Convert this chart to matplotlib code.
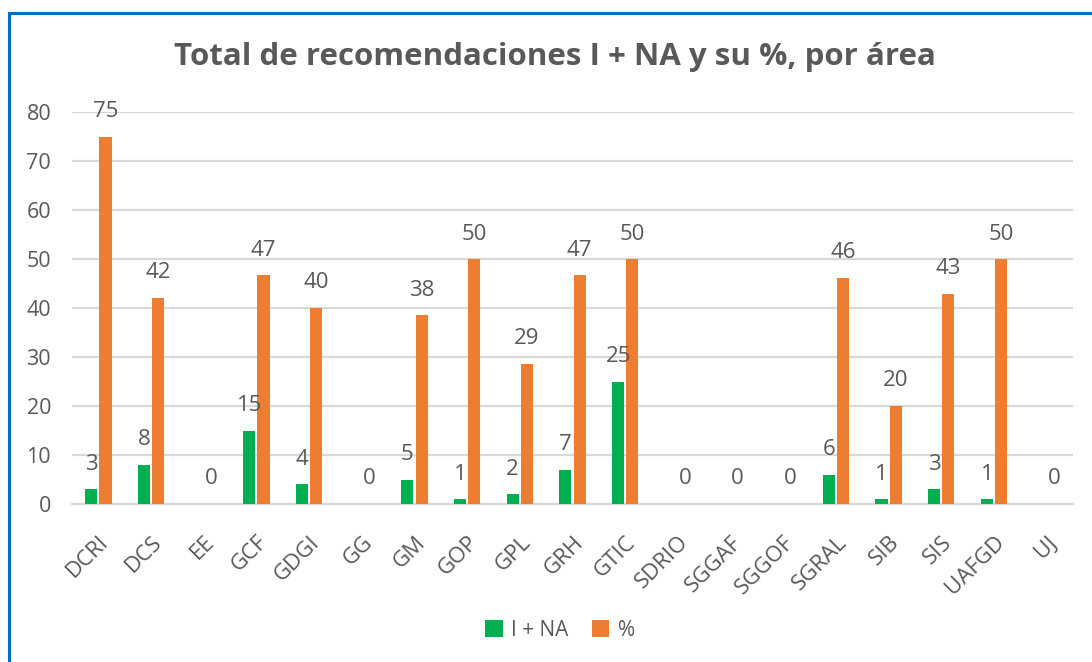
import matplotlib

matplotlib.use("Agg")
import matplotlib.pyplot as plt
import numpy as np
from matplotlib.lines import Line2D

areas = ["DCRI", "DCS", "EE", "GCF", "GDGI", "GG", "GM", "GOP", "GPL", "GRH",
         "GTIC", "SDRIO", "SGGAF", "SGGOF", "SGRAL", "SIB", "SIS", "UAFGD", "UJ"]
i_na = [3, 8, 0, 15, 4, 0, 5, 1, 2, 7, 25, 0, 0, 0, 6, 1, 3, 1, 0]
pct = [75, 42.1, 0, 46.7, 40, 0, 38.5, 50, 28.6, 46.7, 50, 0, 0, 0, 46.2, 20, 42.9, 50, 0]
y_ticks = [0, 10, 20, 30, 40, 50, 60, 70, 80]

GREEN = "#00b050"
ORANGE = "#ed7d31"
TEXT = "#595959"
GRID = "#d9d9d9"

plt.rcParams["font.family"] = ["Open Sans", "DejaVu Sans"]

fig = plt.figure(figsize=(10.92, 6.62), dpi=100)
ax = fig.add_axes([72 / 1092, 1 - 504 / 662, (1073 - 72) / 1092, (504 - 112) / 662])

x = np.arange(len(areas))
w = 0.23
off = 0.135
b1 = ax.bar(x - off, i_na, w, color=GREEN, label="I + NA", zorder=3)
b2 = ax.bar(x + off, pct, w, color=ORANGE, label="%", zorder=3)

for rect, v in zip(b1, i_na):
    if v > 0:
        ax.annotate(f"{v:.0f}", (rect.get_x() + rect.get_width() / 2, v),
                    xytext=(0, 18), textcoords="offset points",
                    ha="center", va="center", fontsize=16, color=TEXT)
for rect, v in zip(b2, pct):
    ax.annotate(f"{v:.0f}", (rect.get_x() + rect.get_width() / 2, v),
                xytext=(0, 18), textcoords="offset points",
                ha="center", va="center", fontsize=16, color=TEXT)

ax.set_xlim(-0.5, len(areas) - 0.5)
ax.set_ylim(0, 80)
ax.set_yticks(y_ticks)
ax.set_yticklabels([str(t) for t in y_ticks], fontsize=15.5, color=TEXT)
ax.set_xticks(x)
ax.set_xticklabels(areas, rotation=45, ha="right", rotation_mode="anchor",
                   fontsize=16, color=TEXT)
ax.tick_params(axis="both", length=0)
ax.tick_params(axis="y", pad=15)
ax.tick_params(axis="x", pad=20)
ax.grid(axis="y", color=GRID, linewidth=1.6, zorder=0)
for s in ["top", "right", "left"]:
    ax.spines[s].set_visible(False)
ax.spines["bottom"].set_color(GRID)
ax.spines["bottom"].set_linewidth(1.6)

fig.text(555 / 1092, 1 - 57 / 662, "Total de recomendaciones I + NA y su %, por área",
         ha="center", va="center", fontsize=22.5, fontweight="bold", color=TEXT)

fig.legend(loc="center", bbox_to_anchor=(560 / 1092, 1 - 630 / 662), ncol=2,
           frameon=False, fontsize=15, labelcolor=TEXT, handlelength=0.85,
           handleheight=0.85, handletextpad=0.4, columnspacing=1.1)

# blue frame (top and left edges visible)
fig.add_artist(Line2D([9 / 1092, 1], [1 - 13 / 662, 1 - 13 / 662], color="#0070c0",
                      linewidth=2.2, transform=fig.transFigure))
fig.add_artist(Line2D([9 / 1092, 9 / 1092], [0, 1 - 13 / 662], color="#0070c0",
                      linewidth=2.2, transform=fig.transFigure))

fig.savefig("out.png", dpi=100)
